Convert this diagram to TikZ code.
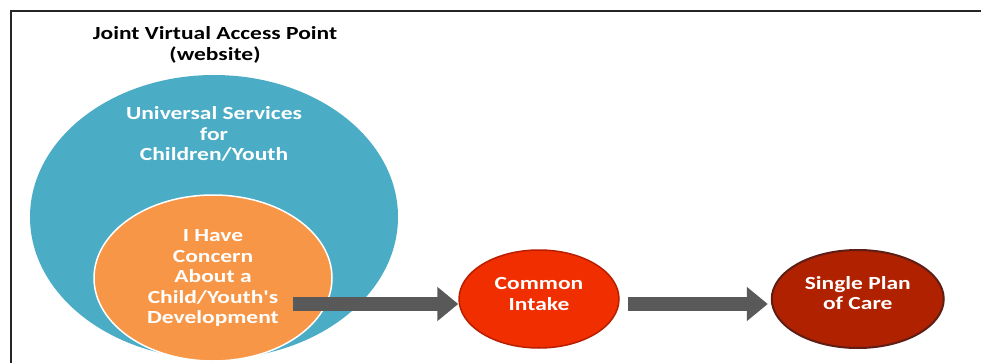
\documentclass[tikz,border=0pt]{standalone}
\usepackage{fontspec}
\newfontfamily\calfont{Carlito}[FakeStretch=1.27]
\usetikzlibrary{arrows.meta,positioning,shapes.geometric}
\definecolor{aqua}{HTML}{4BACC6}
\definecolor{peach}{HTML}{F79646}
\definecolor{intakered}{HTML}{F02E00}
\definecolor{intakeedge}{HTML}{B81E00}
\definecolor{planred}{HTML}{B02100}
\definecolor{planedge}{HTML}{5E1E16}
\definecolor{arrowgray}{HTML}{595959}
\tikzset{
    blob/.style={ellipse,inner sep=0pt},
    caption/.style={align=center,font=\calfont\bfseries\fontsize{18.5}{20.5}\selectfont},
    flow/.style={-{Triangle[length=21pt,width=33pt]},line width=14pt,draw=arrowgray}
}

\begin{document}
\begin{tikzpicture}[x=1pt,y=-1pt]
    \useasboundingbox (0,0) rectangle (981,363);
    % frame, cut off at the right and bottom
    \draw[line width=2pt,black!85] (11,363) -- (11,11) -- (981,11);

    \node[caption] (access) at (215,45) {Joint Virtual Access Point\\(website)};

    \node[blob,fill=aqua,minimum width=368pt,minimum height=284pt] (universal) at (214,217) {};
    \node[caption,text=white] (universal text) at (214,134) {Universal Services\\for\\Children/Youth};

    \node[blob,caption,text=white,fill=peach,draw=white,line width=1.5pt,
          minimum width=238pt,minimum height=166pt] (concern) at (213,278)
          {I Have\\Concern\\About a\\Child/Youth's\\Development};

    \node[blob,caption,text=white,text depth=10pt,fill=intakered,draw=intakeedge,line width=1.5pt,
          minimum width=160pt,minimum height=98pt] (intake) at (539,299) {Common\\Intake};
    \node[blob,caption,text=white,text depth=12pt,fill=planred,draw=planedge,line width=2pt,
          minimum width=172pt,minimum height=98pt] (plan) [right=151pt of intake] {Single Plan\\of Care};

    \coordinate (concern exit) at (293,304);
    \coordinate (intake exit) at (628,304);
    \draw[flow] (concern exit) -- (intake.west |- concern exit);
    \draw[flow] (intake exit) -- ([xshift=-3pt]plan.west |- intake exit);
\end{tikzpicture}
\end{document}
